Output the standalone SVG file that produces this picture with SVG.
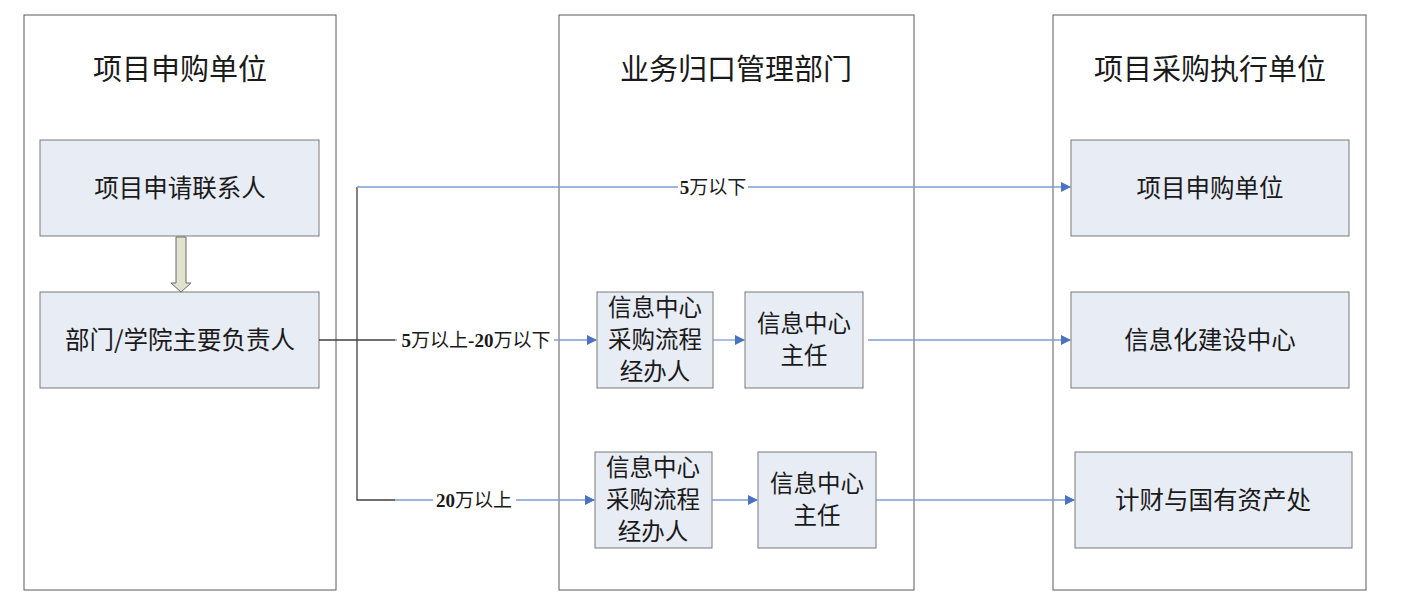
<svg xmlns="http://www.w3.org/2000/svg" width="1420" height="606" viewBox="0 0 1420 606">
<style>
.lane{fill:#fff;stroke:#5a5a5a;stroke-width:1}
.box{fill:#e8ecf5;stroke:#7a7a7a;stroke-width:1}
.title{font-family:"Noto Sans CJK SC","Liberation Sans",sans-serif;font-size:29px;fill:#1a1a1a;text-anchor:middle}
.t{font-family:"Noto Sans CJK SC","Liberation Sans",sans-serif;font-size:24.5px;fill:#1a1a1a;text-anchor:middle}
.m{font-family:"Noto Sans CJK SC","Liberation Sans",sans-serif;font-size:23.5px;fill:#1a1a1a;text-anchor:middle}
.lbl{font-family:"Liberation Serif","Noto Sans CJK SC",serif;font-size:19px;fill:#1a1a1a;text-anchor:middle}
.b{font-weight:bold}
.blue{stroke:#7f9bd3;stroke-width:1.3;fill:none}
.dark{stroke:#404040;stroke-width:1.3;fill:none}
</style>
<defs>
<marker id="ah" markerWidth="10" markerHeight="10" refX="9" refY="5" orient="auto" markerUnits="userSpaceOnUse">
<path d="M0,0 L10,5 L0,10 Z" fill="#4a72c0"/>
</marker>
</defs>
<rect width="1420" height="606" fill="#fff"/>
<g id="lane-left"><rect class="lane" x="24" y="15" width="312" height="575"/><text class="title" x="180" y="80">项目申购单位</text></g>
<g id="lane-mid"><rect class="lane" x="559" y="15" width="355" height="575"/><text class="title" x="736" y="80">业务归口管理部门</text></g>
<g id="lane-right"><rect class="lane" x="1053" y="15" width="313" height="575"/><text class="title" x="1210" y="80">项目采购执行单位</text></g>

<g id="n-contact"><rect class="box" x="40" y="140" width="279" height="96"/><text class="t" x="180" y="197">项目申请联系人</text></g>
<g id="n-head"><rect class="box" x="40" y="292" width="279" height="96"/><text class="t" x="180" y="349">部门/学院主要负责人</text></g>
<g id="n-r1"><rect class="box" x="1071" y="140" width="278" height="96"/><text class="t" x="1210" y="197">项目申购单位</text></g>
<g id="n-r2"><rect class="box" x="1071" y="292" width="278" height="96"/><text class="t" x="1210" y="349">信息化建设中心</text></g>
<g id="n-r3"><rect class="box" x="1075" y="452" width="277" height="96"/><text class="t" x="1213" y="509">计财与国有资产处</text></g>
<g id="n-m1"><rect class="box" x="597" y="292" width="116" height="96"/><text class="m" x="655" y="316">信息中心</text><text class="m" x="655" y="348">采购流程</text><text class="m" x="655" y="380">经办人</text></g>
<g id="n-m2"><rect class="box" x="745" y="292" width="118" height="96"/><text class="m" x="804" y="332">信息中心</text><text class="m" x="804" y="364">主任</text></g>
<g id="n-m3"><rect class="box" x="595" y="452" width="117" height="96"/><text class="m" x="653" y="476">信息中心</text><text class="m" x="653" y="508">采购流程</text><text class="m" x="653" y="540">经办人</text></g>
<g id="n-m4"><rect class="box" x="758" y="452" width="118" height="96"/><text class="m" x="817" y="492">信息中心</text><text class="m" x="817" y="524">主任</text></g>

<g id="connectors">
<path d="M176,237 L176,283 L171,283 L181,292 L191,283 L186,283 L186,237 Z" fill="#e1e3cf" stroke="#6b6b6b" stroke-width="1"/>
<path class="dark" d="M319,340 L395,340"/>
<path class="blue" d="M395,340 L596,340" marker-end="url(#ah)"/>
<path class="dark" d="M357,187 L357,500 L395,500"/>
<path class="blue" d="M395,500 L594,500" marker-end="url(#ah)"/>
<path class="blue" d="M357,187 L1070,187" marker-end="url(#ah)"/>
<path class="blue" d="M713,340 L744,340" marker-end="url(#ah)"/>
<path class="blue" d="M712,500 L757,500" marker-end="url(#ah)"/>
<path class="blue" d="M868,340 L1070,340" marker-end="url(#ah)"/>
<path class="blue" d="M876,500 L1074,500" marker-end="url(#ah)"/>
<rect x="678" y="177" width="70" height="21" fill="#fff"/>
<text class="lbl" x="713" y="194"><tspan class="b">5</tspan>万以下</text>
<rect x="397" y="330" width="157" height="21" fill="#fff"/>
<text class="lbl" x="476" y="347"><tspan class="b">5</tspan>万以上<tspan class="b">-20</tspan>万以下</text>
<rect x="433" y="490" width="83" height="21" fill="#fff"/>
<text class="lbl" x="474" y="507"><tspan class="b">20</tspan>万以上</text>
</g>
</svg>
